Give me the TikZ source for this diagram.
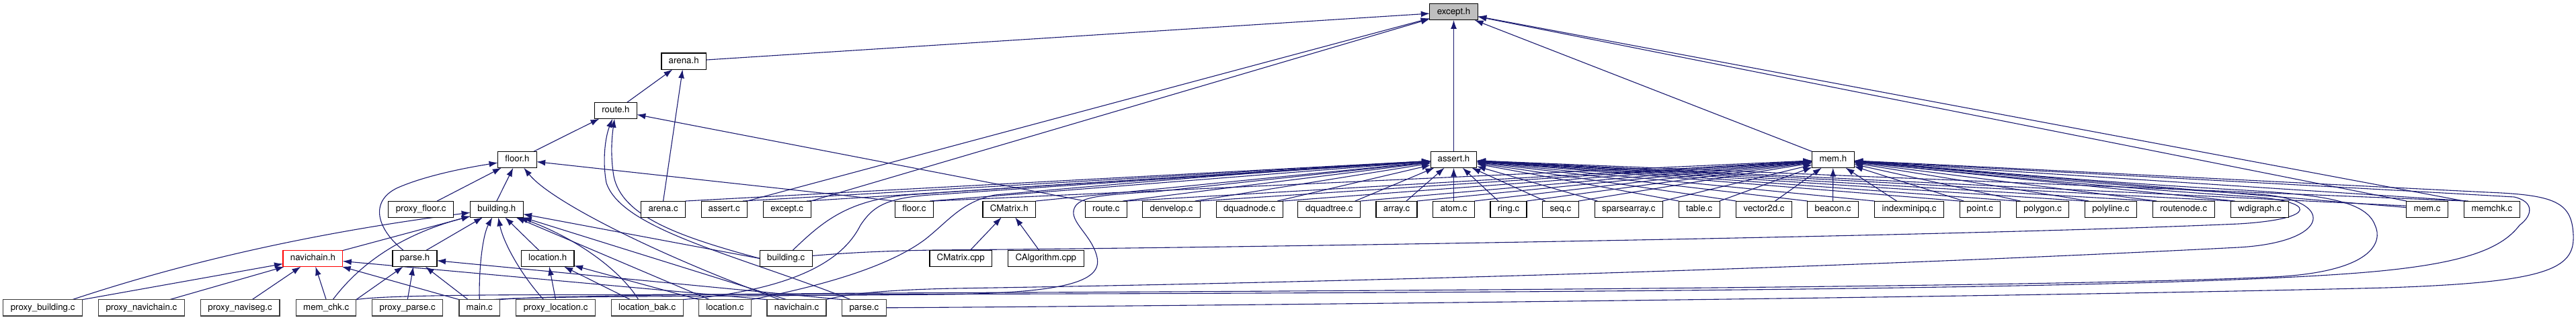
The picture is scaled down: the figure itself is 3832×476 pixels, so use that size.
\documentclass[tikz,border=0pt]{standalone}
\usepackage{fontspec}
\setmainfont{TeX Gyre Heros}
\usetikzlibrary{arrows.meta}
\pgfdeclarelayer{edgelayer}
\pgfsetlayers{edgelayer,main}
\definecolor{eblue}{HTML}{191970}
\definecolor{hgray}{HTML}{BFBFBF}
\begin{document}
\begin{tikzpicture}[x=1pt,y=-1pt,
  fnode/.style={draw=black, line width=1.1pt, fill=white, minimum height=24.3pt, inner sep=0pt, outer sep=0pt,
    font=\fontsize{13.3}{16}\selectfont, text height=9.6pt, text depth=2.8pt},
  leafnode/.style={fnode, draw=black!78},
  hinode/.style={fnode, fill=hgray},
  truncnode/.style={fnode, draw=red},
  dep/.style={draw=eblue, line width=1.1pt, -{Latex[length=13pt,width=9pt]}}]
\useasboundingbox (0,0) rectangle (3832,476);
% rank 0-3
\node[hinode, minimum width=71.4pt] (exceptH) at (2162.5,17.8) {except.h};
\node[fnode, minimum width=66.5pt] (arenaH) at (1017.2,91.2) {arena.h};
\node[fnode, minimum width=62.9pt] (routeH) at (915.9,164.5) {route.h};
\node[fnode, minimum width=57.6pt] (floorH) at (769.4,237.5) {floor.h};
\node[fnode, minimum width=68.8pt] (assertH) at (2162.5,237.5) {assert.h};
\node[fnode, minimum width=62.5pt] (memH) at (2726.8,237.5) {mem.h};
% rank 4
\node[fnode, minimum width=97pt] (proxyFloorC) at (626.2,311.2) {proxy\_floor.c};
\node[fnode, minimum width=78.5pt] (buildingH) at (738.9,311.2) {building.h};
\node[fnode, minimum width=66pt] (arenaC) at (986.6,311.2) {arena.c};
\node[fnode, minimum width=67.8pt] (assertC) at (1077.2,311.2) {assert.c};
\node[fnode, minimum width=71pt] (exceptC) at (1170.7,311.2) {except.c};
\node[fnode, minimum width=57pt] (floorC) at (1359.9,311.2) {floor.c};
\node[fnode, minimum width=78.6pt] (cmatrixH) at (1501.3,311.2) {CMatrix.h};
\node[fnode, minimum width=62pt] (routeC) at (1645.3,311.2) {route.c};
\node[fnode, minimum width=86.2pt] (denvelopC) at (1742.6,311.2) {denvelop.c};
\node[fnode, minimum width=98.7pt] (dquadnodeC) at (1858.7,311.2) {dquadnode.c};
\node[fnode, minimum width=93pt] (dquadtreeC) at (1977.3,311.2) {dquadtree.c};
\node[fnode, minimum width=61pt] (arrayC) at (2077.5,311.2) {array.c};
\node[fnode, minimum width=61.6pt] (atomC) at (2162.5,311.2) {atom.c};
\node[fnode, minimum width=54pt] (ringC) at (2244,311.2) {ring.c};
\node[fnode, minimum width=53.6pt] (seqC) at (2321.4,311.2) {seq.c};
\node[fnode, minimum width=100.9pt] (sparsearrayC) at (2422.8,311.2) {sparsearray.c};
\node[fnode, minimum width=60.7pt] (tableC) at (2527.7,311.2) {table.c};
\node[fnode, minimum width=83pt] (vectorC) at (2624.1,311.2) {vector2d.c};
\node[fnode, minimum width=75.5pt] (beaconC) at (2726.6,311.2) {beacon.c};
\node[fnode, minimum width=103pt] (indexminipqC) at (2840,311.2) {indexminipq.c};
\node[fnode, minimum width=60.2pt] (pointC) at (2945.3,311.2) {point.c};
\node[fnode, minimum width=78.2pt] (polygonC) at (3038.6,311.2) {polygon.c};
\node[fnode, minimum width=77.2pt] (polylineC) at (3139.9,311.2) {polyline.c};
\node[fnode, minimum width=92pt] (routenodeC) at (3248.2,311.2) {routenode.c};
\node[fnode, minimum width=85.9pt] (wdigraphC) at (3361.5,311.2) {wdigraph.c};
\node[fnode, minimum width=61.7pt] (memC) at (3610.6,311.2) {mem.c};
\node[fnode, minimum width=82.6pt] (memchkC) at (3706.9,311.2) {memchk.c};
% rank 5
\node[truncnode, minimum width=88.8pt] (navichainH) at (465.4,384.5) {navichain.h};
\node[fnode, minimum width=66pt] (parseH) at (617,384.5) {parse.h};
\node[fnode, minimum width=78.6pt] (locationH) at (814.7,384.5) {location.h};
\node[fnode, minimum width=77.7pt] (buildingC) at (1169.2,384.5) {building.c};
\node[fnode, minimum width=92.4pt] (cmatrixCpp) at (1429.2,384.5) {CMatrix.cpp};
\node[fnode, minimum width=112.5pt] (calgorithmCpp) at (1555.8,384.5) {CAlgorithm.cpp};
% rank 6
\node[leafnode, minimum width=118.3pt] (proxyBuildingC) at (63.6,457.8) {proxy\_building.c};
\node[leafnode, minimum width=128pt] (proxyNavichainC) at (210.4,457.8) {proxy\_navichain.c};
\node[leafnode, minimum width=117.8pt] (proxyNavisegC) at (357.1,457.8) {proxy\_naviseg.c};
\node[leafnode, minimum width=89.3pt] (memChkC) at (485.2,457.8) {mem\_chk.c};
\node[leafnode, minimum width=105.3pt] (proxyParseC) at (606.2,457.8) {proxy\_parse.c};
\node[leafnode, minimum width=60.7pt] (mainC) at (713.3,457.8) {main.c};
\node[leafnode, minimum width=117.4pt] (proxyLocationC) at (826.6,457.8) {proxy\_location.c};
\node[leafnode, minimum width=106.7pt] (locationBakC) at (962.7,457.8) {location\_bak.c};
\node[leafnode, minimum width=77.7pt] (locationC) at (1078.5,457.8) {location.c};
\node[leafnode, minimum width=88pt] (navichainC) at (1185,457.8) {navichain.c};
\node[leafnode, minimum width=65.7pt] (parseC) at (1285.4,457.8) {parse.c};

\begin{pgfonlayer}{edgelayer}
% except.h
\draw[dep] (arenaH) -- (exceptH);
\draw[dep] (assertC.north east) -- (exceptH);
\draw[dep] (exceptC.north east) -- (exceptH);
\draw[dep] (assertH) -- (exceptH);
\draw[dep] (memH.north west) -- (exceptH);
\draw[dep] (memC.north west) -- (exceptH);
\draw[dep] (memchkC.north west) -- (exceptH);
% arena.h
\draw[dep] (routeH) -- (arenaH);
\draw[dep] (arenaC.north) -- (arenaH);
% route.h
\draw[dep] (floorH) -- (routeH);
\draw[dep] (routeC.north west) -- (routeH);
\draw[dep] (buildingC.west) .. controls (1010,352) and (925,322) .. (913,262) .. controls (908,232) and (910,205) .. (routeH);
\draw[dep] ([xshift=-20pt]parseC.north) .. controls (1100,380) and (925,342) .. (902,272) .. controls (896,240) and (900,205) .. (routeH);
% floor.h
\draw[dep] ([xshift=24pt]proxyFloorC.north) -- (floorH);
\draw[dep] (buildingH.north) -- (floorH);
\draw[dep] (floorC.north west) -- (floorH);
\draw[dep] ([xshift=-17pt]parseH.north) .. controls (560,340) and (550,300) .. (590,280) .. controls (630,262) and (690,250) .. (floorH);
\draw[dep] ([xshift=-25pt]navichainC.north) .. controls (980,380) and (820,300) .. (floorH);
% building.h
\draw[dep] ([xshift=44pt]proxyBuildingC.north) .. controls (260,395) and (450,348) .. (buildingH);
\draw[dep] (navichainH) -- (buildingH);
\draw[dep] ([xshift=10pt]memChkC.north) .. controls (528,402) and (585,352) .. (buildingH);
\draw[dep] ([xshift=17pt]parseH.north) -- (buildingH);
\draw[dep] (mainC.north) .. controls (712,400) and (718,350) .. (buildingH);
\draw[dep] ([xshift=-18pt]proxyLocationC.north) .. controls (772,405) and (748,358) .. (buildingH);
\draw[dep] ([xshift=-13pt]locationH.north) -- (buildingH);
\draw[dep] (buildingC.west) -- (buildingH);
\draw[dep] ([xshift=-13pt]locationBakC.north) .. controls (925,405) and (862,356) .. (buildingH);
\draw[dep] ([xshift=-23pt]locationC.north) -- (buildingH);
\draw[dep] ([xshift=-15pt]navichainC.north) -- (buildingH);
% navichain.h
\draw[dep] (proxyBuildingC.north east) -- (navichainH);
\draw[dep] ([xshift=42pt]proxyNavichainC.north) -- (navichainH);
\draw[dep] ([xshift=18pt]proxyNavisegC.north) -- (navichainH);
\draw[dep] (memChkC.north) -- (navichainH);
\draw[dep] (mainC.north west) -- (navichainH);
\draw[dep] (navichainC.north west) -- (navichainH);
% parse.h
\draw[dep] (memChkC.north east) -- (parseH);
\draw[dep] (proxyParseC.north) -- (parseH);
\draw[dep] ([xshift=-17pt]mainC.north) -- (parseH);
\draw[dep] (parseC.north west) -- (parseH);
% location.h
\draw[dep] (proxyLocationC.north) -- (locationH);
\draw[dep] ([xshift=-25pt]locationBakC.north) -- (locationH);
\draw[dep] (locationC.north west) -- (locationH);
% CMatrix.h
\draw[dep] ([xshift=14pt]cmatrixCpp.north) -- (cmatrixH);
\draw[dep] ([xshift=-10pt]calgorithmCpp.north) -- (cmatrixH);
% assert.h fan
\draw[dep] (arenaC.north east) -- (assertH);
\draw[dep] ([xshift=-6pt]assertC.north east) -- (assertH);
\draw[dep] ([xshift=-6pt]exceptC.north east) -- (assertH);
\draw[dep] ([xshift=-5pt]floorC.north east) -- (assertH);
\draw[dep] (cmatrixH.north east) -- (assertH);
\draw[dep] ([xshift=-6pt]routeC.north east) -- (assertH);
\draw[dep] ([xshift=-8pt]denvelopC.north east) -- (assertH);
\draw[dep] ([xshift=-8pt]dquadnodeC.north east) -- (assertH);
\draw[dep] ([xshift=-8pt]dquadtreeC.north east) -- (assertH);
\draw[dep] ([xshift=-16pt]arrayC.north east) -- (assertH);
\draw[dep] (atomC.north) -- (assertH);
\draw[dep] ([xshift=12pt]ringC.north west) -- (assertH);
\draw[dep] ([xshift=4pt]seqC.north west) -- (assertH);
\draw[dep] ([xshift=4pt]sparsearrayC.north west) -- (assertH);
\draw[dep] (tableC.north west) -- (assertH);
\draw[dep] (vectorC.north west) -- (assertH);
\draw[dep] (beaconC.north west) -- (assertH);
\draw[dep] (indexminipqC.north west) -- (assertH);
\draw[dep] (pointC.north west) -- (assertH);
\draw[dep] (polygonC.north west) -- (assertH);
\draw[dep] (polylineC.north west) -- (assertH);
\draw[dep] (routenodeC.north west) -- (assertH);
\draw[dep] (wdigraphC.north west) -- (assertH);
\draw[dep] ([yshift=5pt]memC.west) -- (assertH);
\draw[dep] ([xshift=2pt]memchkC.north west) -- (assertH);
% mem.h fan
\draw[dep] (floorC.north east) -- (memH);
\draw[dep] (routeC.north east) -- (memH);
\draw[dep] (denvelopC.north east) -- (memH);
\draw[dep] (dquadnodeC.north east) -- (memH);
\draw[dep] (dquadtreeC.north east) -- (memH);
\draw[dep] (arrayC.north east) -- (memH);
\draw[dep] (atomC.north east) -- (memH);
\draw[dep] (ringC.north east) -- (memH);
\draw[dep] (seqC.north east) -- (memH);
\draw[dep] (sparsearrayC.north east) -- (memH);
\draw[dep] (tableC.north east) -- (memH);
\draw[dep] ([xshift=-25pt]vectorC.north east) -- (memH);
\draw[dep] (beaconC.north) -- (memH);
\draw[dep] ([xshift=33pt]indexminipqC.north west) -- (memH);
\draw[dep] ([xshift=6pt]pointC.north west) -- (memH);
\draw[dep] ([xshift=6pt]polygonC.north west) -- (memH);
\draw[dep] ([xshift=6pt]polylineC.north west) -- (memH);
\draw[dep] ([xshift=6pt]routenodeC.north west) -- (memH);
\draw[dep] ([xshift=6pt]wdigraphC.north west) -- (memH);
\draw[dep] (memC) -- (memH);
\draw[dep] ([xshift=6pt]memchkC.north west) -- (memH);
% long curves into assert.h
\draw[dep] ([xshift=10pt]buildingC.north) .. controls (1225,328) and (1262,298) .. (1350,290) .. controls (1600,272) and (1900,255) .. (assertH);
\draw[dep] (locationBakC.north east) .. controls (1215,428) and (1262,370) .. (1280,335) .. controls (1300,305) and (1320,293) .. (1400,289) .. controls (1700,268) and (1950,252) .. (assertH);
\draw[dep] (locationC.north east) .. controls (1250,420) and (1330,390) .. (1375,357) .. controls (1410,330) and (1430,300) .. (1480,290) .. controls (1700,270) and (1950,250) .. (assertH);
\draw[dep] ([xshift=20pt]mainC.north) .. controls (800,440) and (1100,441) .. (1400,438) .. controls (1580,436) and (1640,420) .. (1632,383) .. controls (1625,350) and (1590,330) .. (1598,310) .. controls (1605,292) and (1640,290) .. (1720,285) -- (assertH);
% long loops into mem.h (right side)
\draw[dep] ([yshift=4pt]buildingC.east) .. controls (1260,376) and (1320,373) .. (1390,372) .. controls (1800,369) and (2900,352) .. (3330,333) .. controls (3450,326) and (3450,298) .. (3340,292) .. controls (3150,280) and (2900,255) .. (memH);
\draw[dep] (navichainC.north east) .. controls (1260,437) and (1320,431) .. (1420,429) .. controls (2300,415) and (3000,385) .. (3330,368) .. controls (3470,360) and (3475,296) .. (3360,289) .. controls (3150,278) and (2900,252) .. (memH);
\draw[dep] (mainC.north east) .. controls (790,441) and (1000,438) .. (1300,436) .. controls (2300,432) and (3100,425) .. (3380,412) .. controls (3530,405) and (3545,360) .. (3533,335) .. controls (3520,300) and (3460,290) .. (3340,283) .. controls (3100,270) and (2900,250) .. (memH);
\draw[dep] (memChkC.north east) .. controls (560,441) and (650,439) .. (800,438.5) .. controls (2200,437) and (3200,432) .. (3520,405) .. controls (3660,393) and (3720,372) .. (3748,335) .. controls (3768,320) and (3770,300) .. (3740,293) .. controls (3300,268) and (2950,250) .. (memH);
\draw[dep] (parseC.east) .. controls (1800,455) and (3000,442) .. (3550,428) .. controls (3790,420) and (3830,400) .. (3828,350) .. controls (3826,300) and (3800,290) .. (3700,286) .. controls (3300,266) and (2950,248) .. (memH);
\end{pgfonlayer}
\end{tikzpicture}
\end{document}
